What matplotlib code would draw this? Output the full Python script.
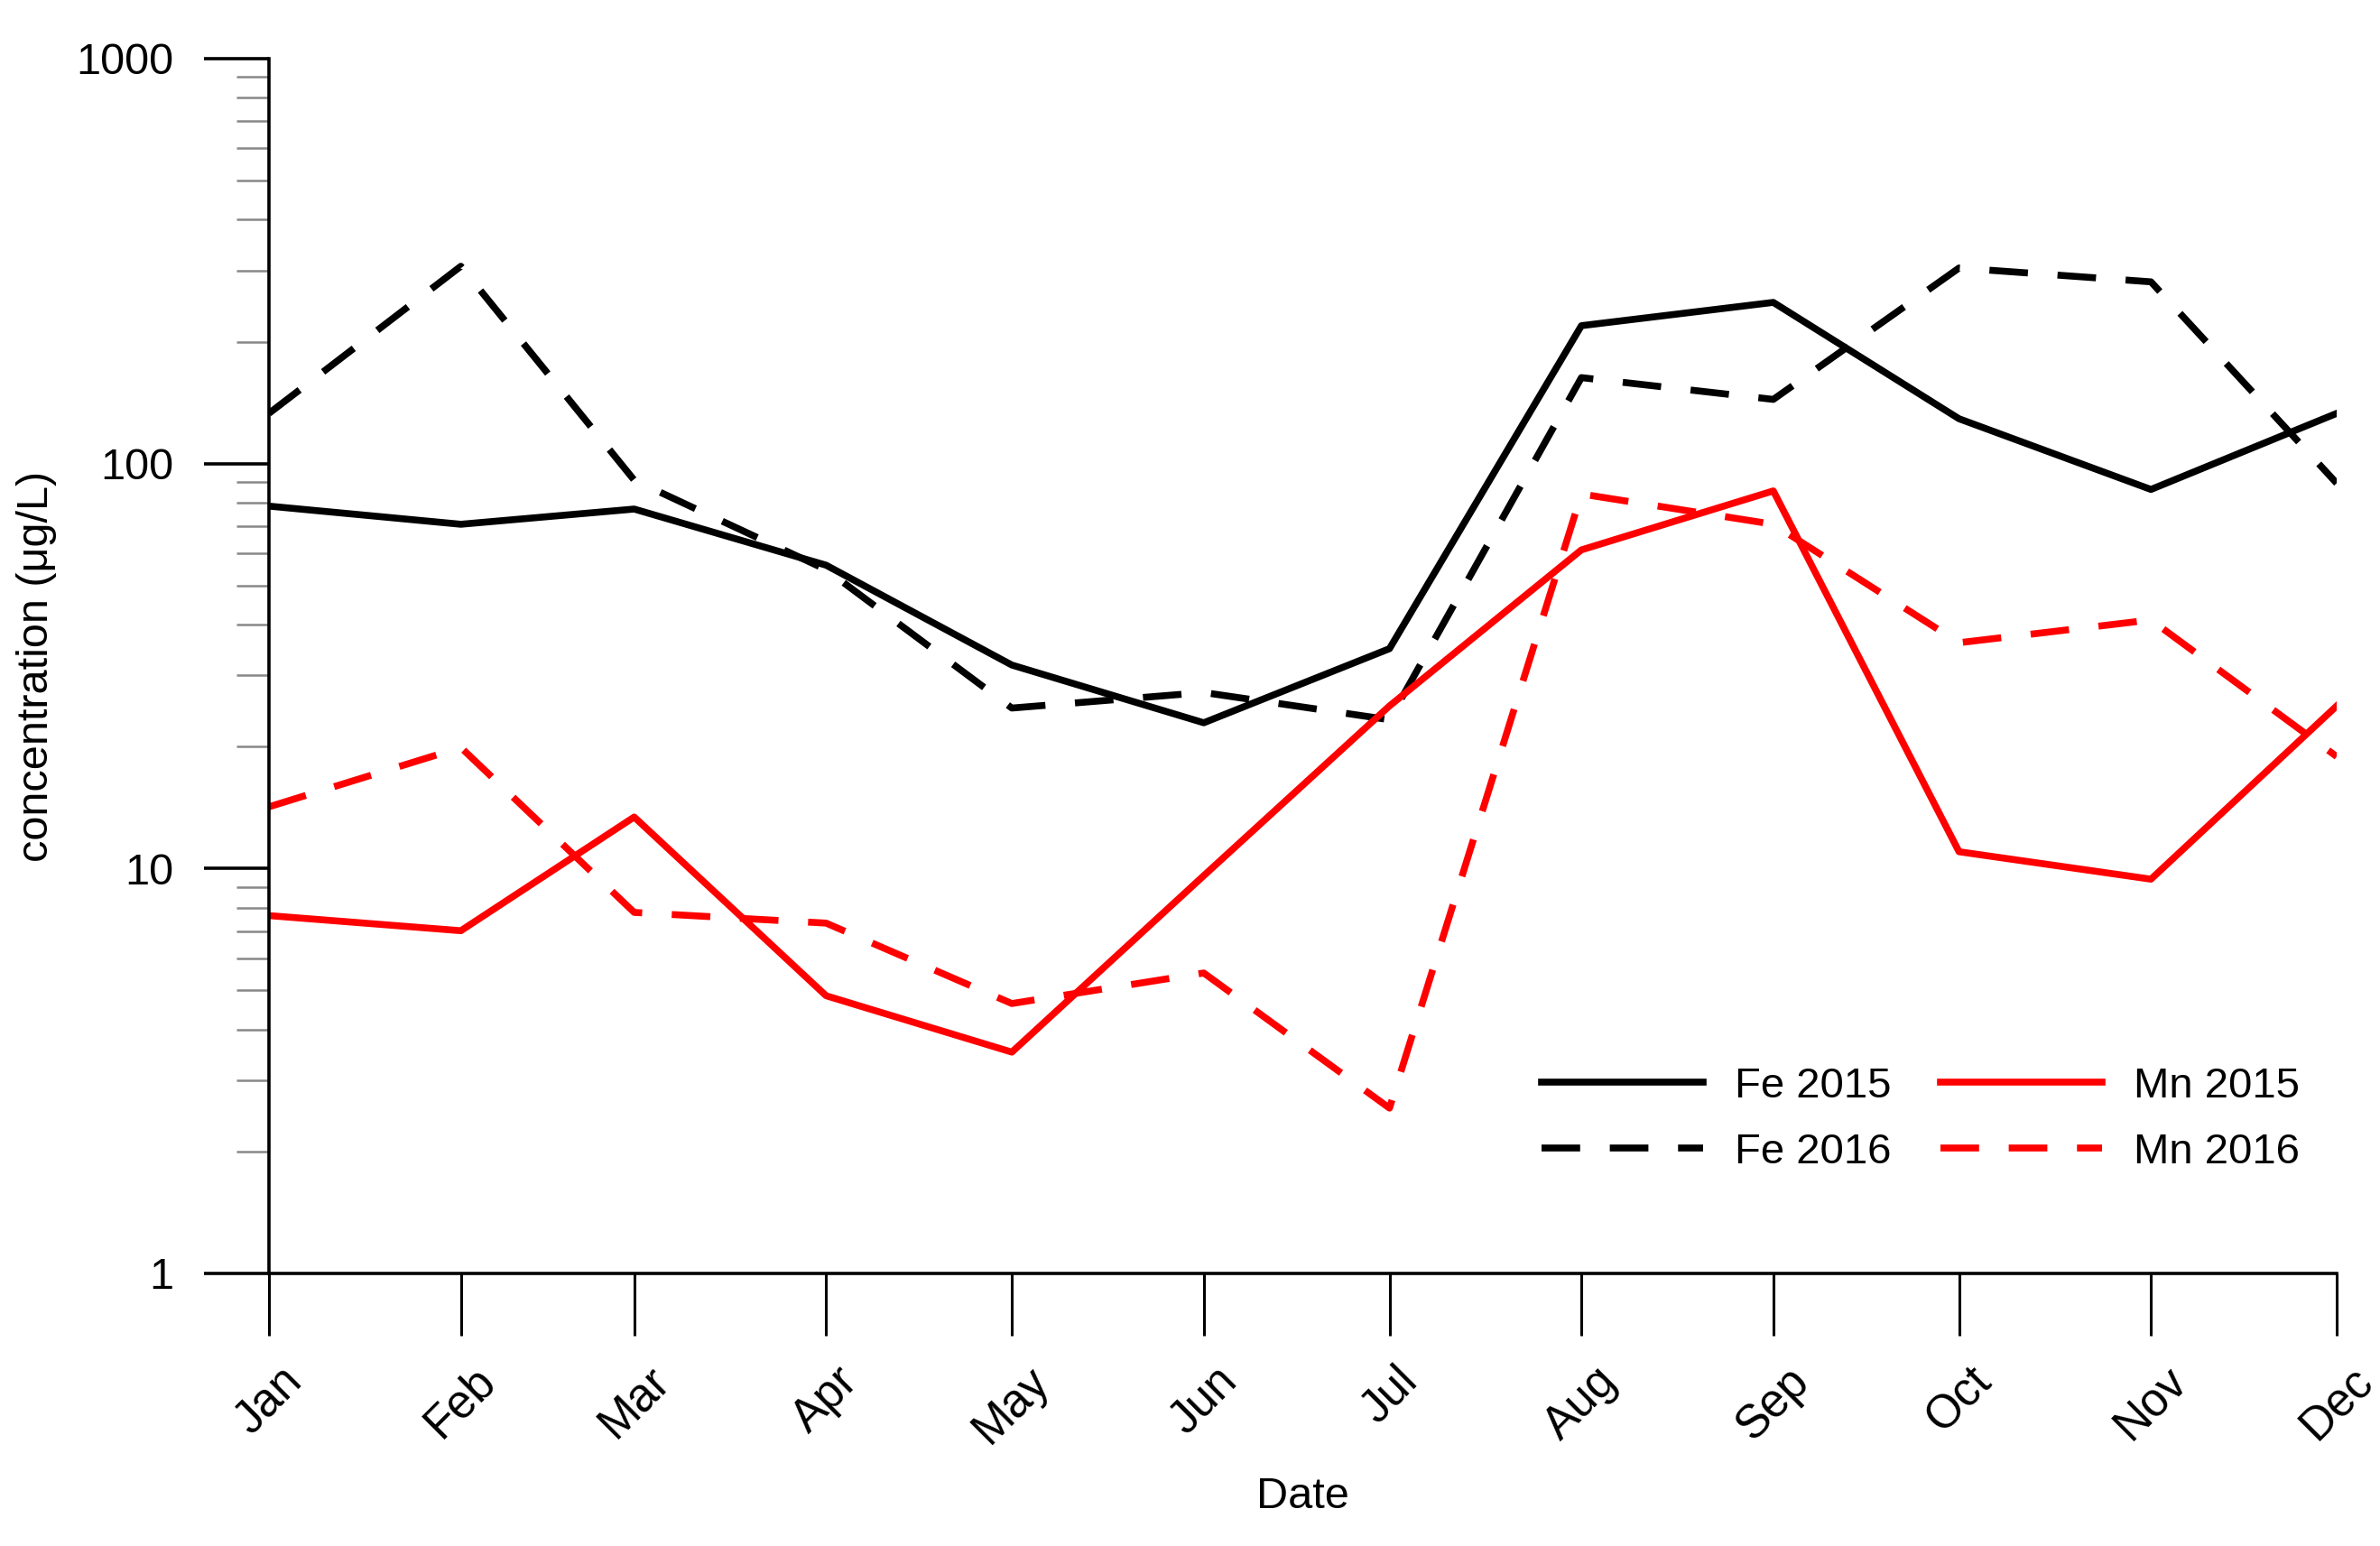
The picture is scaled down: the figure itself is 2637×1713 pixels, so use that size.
import matplotlib
matplotlib.use('Agg')
import matplotlib.pyplot as plt
import matplotlib.ticker as mticker
import pandas as pd

# monthly sampling dates (first of each month)
dates = pd.to_datetime(['2015-01-01', '2015-02-01', '2015-03-01', '2015-04-01',
                        '2015-05-01', '2015-06-01', '2015-07-01', '2015-08-01',
                        '2015-09-01', '2015-10-01', '2015-11-01', '2015-12-01'])
month_labels = ['Jan', 'Feb', 'Mar', 'Apr', 'May', 'Jun',
                'Jul', 'Aug', 'Sep', 'Oct', 'Nov', 'Dec']

# concentrations in ug/L
fe_2015 = [78.5, 70.8, 77.2, 56.1, 31.8, 22.9, 34.9, 219, 250, 129, 86.3, 133]
fe_2016 = [133, 307, 91, 54.7, 24.9, 27.2, 23.3, 163, 144, 304, 281, 89.4]
mn_2015 = [7.65, 7.02, 13.4, 4.85, 3.52, 9.6, 25.2, 61.2, 85.6, 11.0, 9.41, 25.2]
mn_2016 = [14.2, 19.9, 7.79, 7.33, 4.64, 5.52, 2.56, 84.1, 70.8, 36.1, 41.1, 18.9]

plt.rcParams['font.family'] = ['Liberation Sans', 'DejaVu Sans']

fig = plt.figure(figsize=(26.37, 17.13), dpi=100)
ax = fig.add_axes([0.1130, 0.1763, 0.8688, 0.7858])

lw = 5.5
dash = (5.6, 4.3)
l1, = ax.plot(dates, fe_2015, color='black', lw=lw, label='Fe 2015')
l2, = ax.plot(dates, fe_2016, color='black', lw=lw, ls=(0, dash), label='Fe 2016')
l3, = ax.plot(dates, mn_2015, color='#ff0000', lw=lw, label='Mn 2015')
l4, = ax.plot(dates, mn_2016, color='#ff0000', lw=lw, ls=(0, dash), label='Mn 2016')

ax.set_yscale('log')
ax.set_ylim(1, 1000)
ax.set_xlim(dates[0], dates[-1])

ax.yaxis.set_major_locator(mticker.FixedLocator([1, 10, 100, 1000]))
ax.yaxis.set_major_formatter(mticker.FuncFormatter(lambda v, p: '%d' % round(v)))
ax.yaxis.set_minor_locator(mticker.LogLocator(base=10, subs=range(2, 10)))
ax.yaxis.set_minor_formatter(mticker.NullFormatter())

ax.set_xticks(dates)
ax.set_xticklabels(month_labels, rotation=45, ha='center')
ax.xaxis.set_minor_locator(mticker.NullLocator())

for s in ['top', 'right']:
    ax.spines[s].set_visible(False)
for s in ['left', 'bottom']:
    ax.spines[s].set_linewidth(2.6)

ax.tick_params(axis='y', which='major', length=52, width=2.6, labelsize=35, pad=24)
ax.tick_params(axis='y', which='minor', length=26, width=1.8, color='#888888')
ax.tick_params(axis='x', which='major', length=50, width=2.2, labelsize=37, pad=18)

ax.set_ylabel('concentration (\u03bcg/L)', fontsize=35)
ax.yaxis.set_label_coords(-0.1025, 0.5)
ax.set_xlabel('Date', fontsize=35)
ax.xaxis.set_label_coords(0.5, -0.167)

leg = fig.legend(handles=[l1, l2, l3, l4], ncol=2, frameon=False, fontsize=34,
                 loc='center', bbox_to_anchor=(0.807, 0.276),
                 handlelength=3.8, handletextpad=0.74, columnspacing=1.15,
                 labelspacing=0.62)

fig.savefig('out.png', dpi=100)
